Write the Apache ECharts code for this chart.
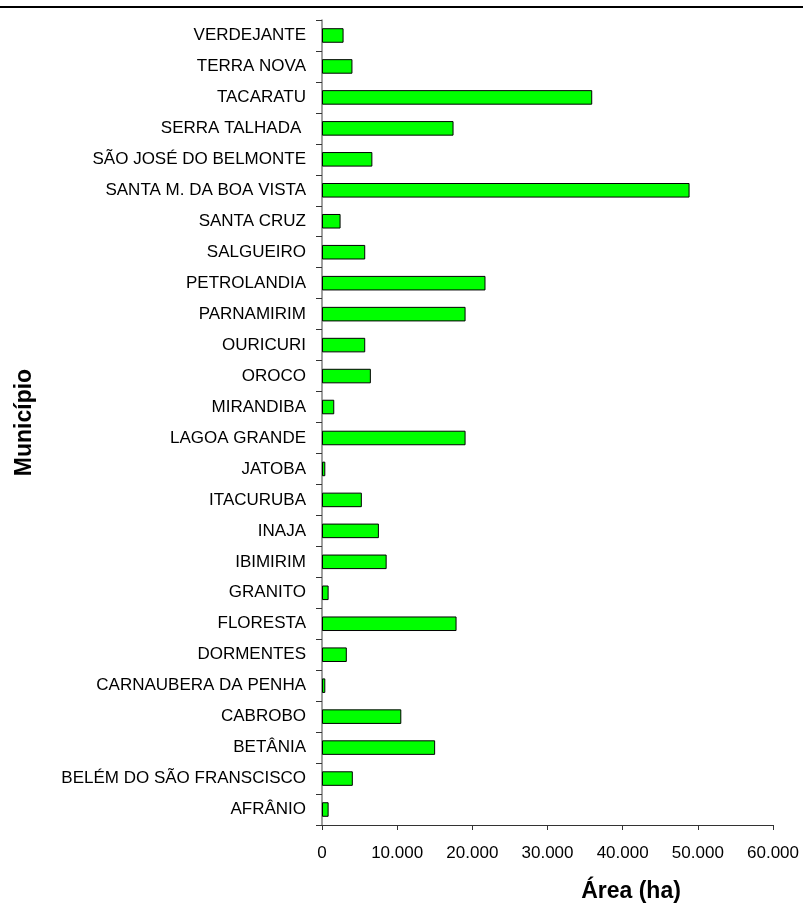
<!DOCTYPE html>
<html>
<head>
<meta charset="utf-8">
<script src="https://cdn.jsdelivr.net/npm/echarts@6/dist/echarts.min.js"></script>
<style>html,body{margin:0;padding:0;background:#fff}#c{width:803px;height:908px}</style>
</head>
<body>
<div id="c"></div>
<script>
const categories = ["AFRÂNIO","BELÉM DO SÃO FRANSCISCO","BETÂNIA","CABROBO","CARNAUBERA DA PENHA","DORMENTES","FLORESTA","GRANITO","IBIMIRIM","INAJA","ITACURUBA","JATOBA","LAGOA GRANDE","MIRANDIBA","OROCO","OURICURI","PARNAMIRIM","PETROLANDIA","SALGUEIRO","SANTA CRUZ","SANTA M. DA BOA VISTA","SÃO JOSÉ DO BELMONTE","SERRA TALHADA ","TACARATU","TERRA NOVA","VERDEJANTE"];
const areaHa = [880,4100,15050,10550,440,3300,17900,880,8600,7570,5300,440,19100,1630,6500,5750,19100,21750,5750,2470,48900,6700,17500,35950,4050,2870];
const xTicks = [0,10000,20000,30000,40000,50000,60000];
const xName = "Área (ha)";
const yName = "Município";

const font = "Liberation Sans";
const chart = echarts.init(document.getElementById('c'), null, {renderer:'canvas'});
chart.setOption({
  animation:false,
  backgroundColor:'#ffffff',
  graphic:[{type:'line',shape:{x1:0,y1:7,x2:803,y2:7},style:{stroke:'#000',lineWidth:2}}],
  grid:{left:322,right:30,top:20,bottom:74,containLabel:false},
  xAxis:{
    type:'value',min:xTicks[0],max:xTicks[xTicks.length-1],interval:10000,
    splitLine:{show:false},
    axisLine:{show:true,lineStyle:{color:'#333',width:1}},
    axisTick:{show:true,length:5,lineStyle:{color:'#333'}},
    axisLabel:{color:'#000',fontFamily:font,fontSize:17,margin:20,
      formatter:v=>v===0?'0':v.toLocaleString('de-DE')},
    name:xName,nameLocation:'middle',nameGap:55,
    nameTextStyle:{color:'#000',fontFamily:font,fontSize:23,fontWeight:'bold',padding:[0,0,0,167]}
  },
  yAxis:{
    type:'category',data:categories,
    axisLine:{show:true,lineStyle:{color:'#808080',width:1.5}},
    axisTick:{show:true,length:6,alignWithLabel:false,lineStyle:{color:'#333'}},
    axisLabel:{color:'#000',fontFamily:font,fontSize:17,margin:16},
    name:yName,nameLocation:'middle',nameGap:286,nameRotate:90,
    nameTextStyle:{color:'#000',fontFamily:font,fontSize:23,fontWeight:'bold'}
  },
  series:[{
    type:'bar',data:areaHa,barCategoryGap:'53%',
    itemStyle:{color:'#00ff00',borderColor:'#000',borderWidth:1}
  }]
});
</script>
</body>
</html>
